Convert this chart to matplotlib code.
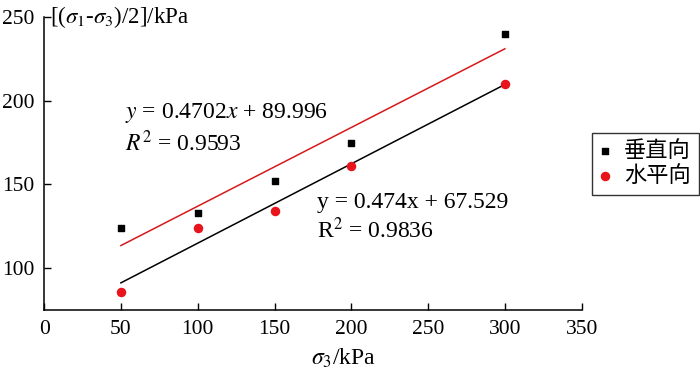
import matplotlib
matplotlib.use('Agg')
import matplotlib.pyplot as plt
import numpy as np

plt.rcParams.update({
    'font.family': ['Liberation Serif', 'Noto Sans CJK SC'],
    'mathtext.fontset': 'stix',
    'font.size': 16,
})

# data
sigma3 = [50, 100, 150, 200, 300]
vertical = [124, 133, 152, 175, 240]     # 垂直向
horizontal = [86, 124, 134, 161, 210]    # 水平向

# fitted lines as printed on the chart
fit_red = (0.4702, 89.996)
fit_black = (0.474, 67.529)
fit_x = [50, 300]

fig = plt.figure(figsize=(7, 3.79), dpi=100)
ax = fig.add_axes([0.063, 0.182, 0.768, 0.773])

xs = np.array(fit_x)
ax.plot(xs, fit_red[0] * xs + fit_red[1], color='#d7191c', lw=1.1)
ax.plot(xs, fit_black[0] * xs + fit_black[1], color='black', lw=1.1)

ax.scatter(sigma3, vertical, marker='s', s=24, color='black', label='垂直向', zorder=3)
ax.scatter(sigma3, horizontal, marker='o', s=34, color='#e8141c', label='水平向', zorder=3)

ax.set_xlim(0, 350)
ax.set_ylim(75, 250)
ax.set_xticks(range(0, 351, 50))
ax.set_yticks([100, 150, 200, 250])
ax.tick_params(direction='in', length=5, width=1, labelsize=15.5)
ax.tick_params(axis='y', pad=7)
ax.tick_params(axis='x', pad=7)
for s in ['top', 'right']:
    ax.spines[s].set_visible(False)
for s in ['left', 'bottom']:
    ax.spines[s].set_linewidth(1.1)

fig.text(0.071, 0.955, r'[($\sigma_1$-$\sigma_3$)/2]/kPa', fontsize=16.5, ha='left', va='center')
fig.text(0.491, 0.055, r'$\sigma_3$/kPa', fontsize=17, ha='center', va='center')

ax.text(52.5, 192.7, r'$y$ = 0.4702$x$ + 89.996', fontsize=17, va='center')
ax.text(52.5, 174.7, r'$R^2$ = 0.9593', fontsize=17, va='center')
ax.text(177.5, 139.5, 'y = 0.474x + 67.529', fontsize=17, va='center')
ax.text(177.5, 122.8, r'R$^2$ = 0.9836', fontsize=17, va='center')

leg = ax.legend(loc='upper left', bbox_to_anchor=(1.019, 0.604), frameon=True, fancybox=False,
                edgecolor='black', fontsize=16, handlelength=0.5, handletextpad=0.6,
                borderpad=0.36, labelspacing=0.2, borderaxespad=0)
leg.get_frame().set_linewidth(1.0)

fig.savefig('out.png', dpi=100)
